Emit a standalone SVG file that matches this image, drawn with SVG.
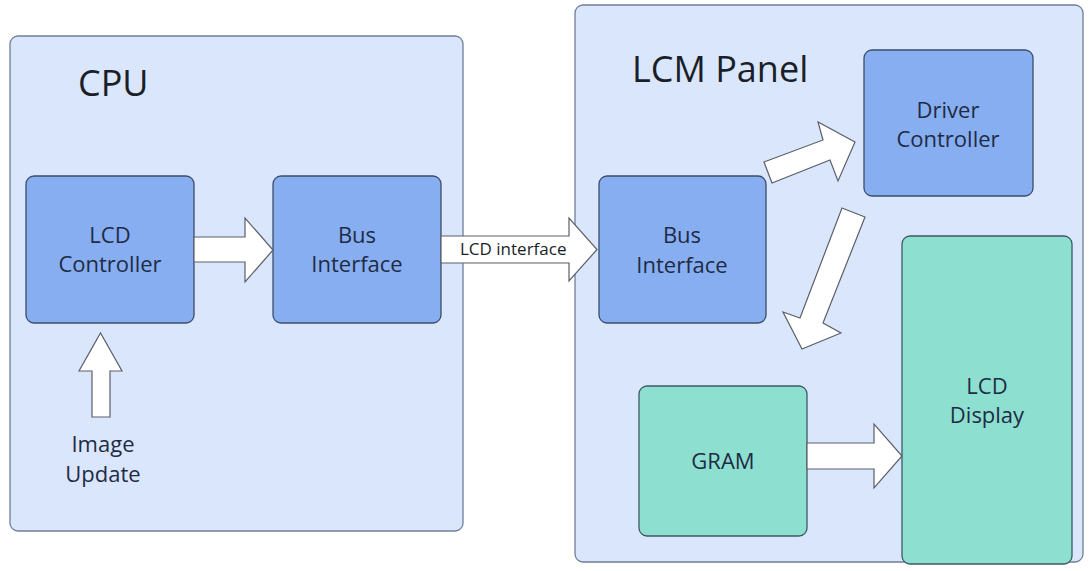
<svg xmlns="http://www.w3.org/2000/svg" width="1092" height="571" viewBox="0 0 1092 571">
<defs>
<style>
.panel{fill:#dae6fc;stroke:#6f7f99;stroke-width:1.3}
.blue{fill:#87aef1;stroke:#3c4d6a;stroke-width:1.3}
.teal{fill:#8ddfd0;stroke:#3c5a62;stroke-width:1.3}
.arrow{fill:#ffffff;stroke:#5a5f6a;stroke-width:1.2;stroke-linejoin:miter}
text{font-family:"Open Sans","Noto Sans","Liberation Sans",sans-serif;fill:#1a1e28}
.title{font-size:36px}
.lbl{font-size:22px;text-anchor:middle;fill:#1f2b44}
.small{font-size:17px}
</style>
</defs>
<rect width="1092" height="571" fill="#ffffff"/>
<g id="cpu">
<rect class="panel" x="10" y="36" width="453" height="495" rx="8"/>
<text class="title" x="78" y="96">CPU</text>
</g>
<g id="lcm-panel">
<rect class="panel" x="575" y="5" width="508" height="557" rx="8"/>
<text class="title" x="632" y="82">LCM Panel</text>
</g>
<g id="lcd-controller">
<rect class="blue" x="26" y="176" width="168" height="147" rx="8"/>
<text class="lbl" x="110" y="243">LCD</text>
<text class="lbl" x="110" y="272">Controller</text>
</g>
<g id="cpu-bus-interface">
<rect class="blue" x="273" y="176" width="168" height="147" rx="8"/>
<text class="lbl" x="357" y="243">Bus</text>
<text class="lbl" x="357" y="272">Interface</text>
</g>
<g id="lcm-bus-interface">
<rect class="blue" x="599" y="176" width="167" height="147" rx="8"/>
<text class="lbl" x="682" y="243">Bus</text>
<text class="lbl" x="682" y="273">Interface</text>
</g>
<g id="driver-controller">
<rect class="blue" x="864" y="50" width="169" height="146" rx="8"/>
<text class="lbl" x="948" y="118">Driver</text>
<text class="lbl" x="948" y="147">Controller</text>
</g>
<g id="gram">
<rect class="teal" x="639" y="386" width="168" height="150" rx="8"/>
<text class="lbl" x="723" y="469">GRAM</text>
</g>
<g id="lcd-display">
<rect class="teal" x="902" y="236" width="170" height="328" rx="8"/>
<text class="lbl" x="987" y="394">LCD</text>
<text class="lbl" x="987" y="423">Display</text>
</g>
<g id="image-update">
<text class="lbl" x="103" y="452">Image</text>
<text class="lbl" x="103" y="482">Update</text>
</g>
<g id="connectors">
<polygon class="arrow" points="92,417 92,371 79,371 100.5,333 122,371 110,371 110,417"/>
<polygon class="arrow" points="194,237 245,237 245,218 273,250 245,282 245,262 194,262"/>
<polygon class="arrow" points="441,236 569,236 569,218 597,249.5 569,281 569,263 441,263"/>
<text class="small" x="460" y="255">LCD interface</text>
<polygon class="arrow" points="764,162 823,140 818,122 855,142 838,181 830,160 772,183"/>
<polygon class="arrow" points="842,208 865,217 823,323 841,333 802,349 783,312 800,318"/>
<polygon class="arrow" points="807,443 874,443 874,424 902,456 874,488 874,469 807,469"/>
</g>
</svg>
